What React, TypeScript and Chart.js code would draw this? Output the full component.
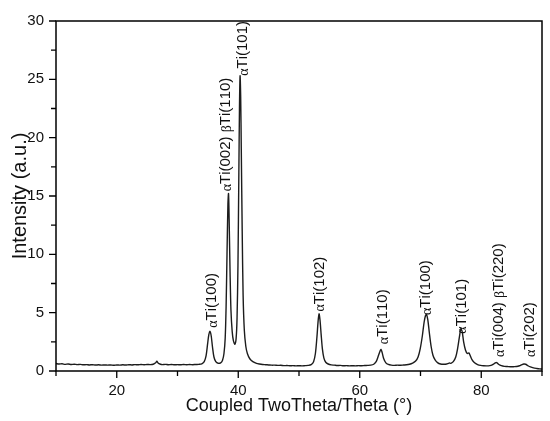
import React, { useEffect, useRef } from "react";
import { Chart, registerables } from "chart.js";

Chart.register(...registerables);

const twoTheta: number[] = [
  10.0, 10.5, 11.0, 11.5, 12.0, 12.5, 13.0, 13.5, 14.0, 14.5, 15.0, 15.5, 16.0, 16.5, 17.0, 17.5, 18.0, 18.5, 19.0, 19.5,
  20.0, 20.5, 21.0, 21.5, 22.0, 22.5, 23.0, 23.5, 24.0, 24.5, 25.0, 25.5, 26.0, 26.4, 26.6, 26.8, 27.2, 27.5, 28.0, 28.5,
  29.0, 29.5, 30.0, 30.5, 31.0, 31.5, 32.0, 32.5, 33.0, 33.5, 34.0, 34.4, 34.7, 34.95, 35.15, 35.35, 35.55, 35.75, 36.0, 36.3,
  36.7, 37.1, 37.4, 37.65, 37.85, 38.0, 38.15, 38.3, 38.4, 38.5, 38.65, 38.8, 39.0, 39.2, 39.45, 39.65, 39.8, 39.95, 40.1, 40.2,
  40.3, 40.4, 40.5, 40.65, 40.8, 41.0, 41.25, 41.5, 41.9, 42.4, 43.0, 43.5, 44.0, 44.5, 45.0, 45.5, 46.0, 46.5, 47.0, 47.5,
  48.0, 48.5, 49.0, 49.5, 50.0, 50.5, 51.0, 51.5, 52.0, 52.4, 52.7, 52.95, 53.15, 53.3, 53.45, 53.65, 53.85, 54.1, 54.4, 54.8,
  55.3, 55.8, 56.3, 56.8, 57.3, 57.8, 58.3, 58.8, 59.3, 59.8, 60.3, 60.8, 61.3, 61.8, 62.3, 62.7, 63.0, 63.3, 63.5, 63.7,
  63.95, 64.3, 64.7, 65.2, 65.7, 66.2, 66.7, 67.2, 67.7, 68.2, 68.7, 69.2, 69.6, 69.95, 70.3, 70.6, 70.85, 71.0, 71.2, 71.45,
  71.75, 72.05, 72.4, 72.8, 73.3, 73.8, 74.3, 74.7, 75.0, 75.4, 75.8, 76.1, 76.4, 76.65, 76.85, 77.1, 77.4, 77.7, 77.95, 78.2,
  78.5, 78.9, 79.4, 79.9, 80.4, 80.9, 81.4, 81.8, 82.1, 82.4, 82.6, 82.9, 83.3, 83.8, 84.3, 84.8, 85.3, 85.8, 86.3, 86.7,
  87.0, 87.3, 87.7, 88.1, 88.6, 89.1, 89.6, 90.0,
];

const intensity: number[] = [
  0.64, 0.6, 0.62, 0.57, 0.6, 0.56, 0.58, 0.55, 0.57, 0.53, 0.55, 0.52, 0.54, 0.51, 0.53, 0.5, 0.52, 0.5, 0.52, 0.49,
  0.52, 0.5, 0.53, 0.51, 0.54, 0.52, 0.55, 0.53, 0.56, 0.54, 0.56, 0.55, 0.58, 0.7, 0.84, 0.68, 0.58, 0.55, 0.57, 0.54,
  0.56, 0.53, 0.55, 0.53, 0.56, 0.54, 0.56, 0.54, 0.56, 0.57, 0.62, 0.8, 1.3, 2.3, 3.1, 3.4, 3.0, 2.1, 1.2, 0.8,
  0.66, 0.7, 0.9, 1.5, 2.8, 5.5, 10.0, 14.3, 15.2, 13.0, 8.5, 5.2, 3.4, 2.6, 2.3, 2.8, 4.5, 9.0, 17.0, 22.5,
  25.3, 23.5, 19.0, 12.0, 6.5, 3.5, 2.1, 1.5, 1.05, 0.8, 0.66, 0.6, 0.56, 0.54, 0.52, 0.5, 0.5, 0.48, 0.49, 0.46,
  0.47, 0.45, 0.46, 0.44, 0.45, 0.44, 0.46, 0.48, 0.55, 0.8, 1.5, 2.9, 4.3, 4.9, 4.4, 3.1, 1.9, 1.1, 0.75, 0.6,
  0.52, 0.5, 0.47, 0.48, 0.45, 0.46, 0.44, 0.45, 0.44, 0.46, 0.45, 0.47, 0.48, 0.5, 0.58, 0.8, 1.2, 1.65, 1.85, 1.55,
  1.05, 0.7, 0.56, 0.5, 0.48, 0.5, 0.49, 0.51, 0.53, 0.58, 0.68, 0.85, 1.2, 1.9, 3.0, 4.2, 4.8, 4.85, 4.4, 3.3,
  2.1, 1.35, 0.95, 0.72, 0.6, 0.58, 0.6, 0.68, 0.66, 0.8, 1.2, 1.9, 2.9, 3.6, 3.4, 2.5, 1.8, 1.5, 1.55, 1.3,
  0.95, 0.7, 0.55, 0.48, 0.45, 0.44, 0.46, 0.52, 0.62, 0.72, 0.7, 0.56, 0.46, 0.4, 0.38, 0.36, 0.37, 0.38, 0.45, 0.55,
  0.6, 0.58, 0.45, 0.35, 0.27, 0.22, 0.18, 0.17,
];

const peakLabels: string[] = [
  "αTi(100)",
  "αTi(002) βTi(110)",
  "αTi(101)",
  "αTi(102)",
  "αTi(110)",
  "αTi(100)",
  "αTi(101)",
  "αTi(004) βTi(220)",
  "αTi(202)",
];
const peakLabelTheta: number[] = [35.7, 38.0, 40.8, 53.4, 63.8, 70.9, 76.8, 82.9, 88.0];
const peakLabelBase: number[] = [3.7, 15.4, 25.3, 5.1, 2.3, 4.8, 3.2, 1.2, 1.2];

const xMajorTicks: number[] = [20, 40, 60, 80];
const xMinorTicks: number[] = [10, 30, 50, 70, 90];
const yMajorTicks: number[] = [0, 5, 10, 15, 20, 25, 30];
const yMinorTicks: number[] = [2.5, 7.5, 12.5, 17.5, 22.5, 27.5];

const SANS = "'Liberation Sans', Arial, sans-serif";
const SERIF = "'Liberation Serif', 'DejaVu Serif', serif";

const framePlugin = {
  id: "frameAndTicks",
  afterDraw(chart: any) {
    const { ctx, chartArea, scales } = chart;
    const xs = scales.x;
    const ys = scales.y;
    ctx.save();
    ctx.strokeStyle = "#000";
    ctx.lineWidth = 1.5;
    ctx.strokeRect(chartArea.left, chartArea.top, chartArea.right - chartArea.left, chartArea.bottom - chartArea.top);
    ctx.lineWidth = 1.3;
    ctx.beginPath();
    const tick = (vals: number[], len: number, horiz: boolean) => {
      for (const v of vals) {
        if (horiz) {
          const px = xs.getPixelForValue(v);
          ctx.moveTo(px, chartArea.bottom);
          ctx.lineTo(px, chartArea.bottom + len);
        } else {
          const py = ys.getPixelForValue(v);
          ctx.moveTo(chartArea.left, py);
          ctx.lineTo(chartArea.left - len, py);
        }
      }
    };
    tick(xMajorTicks, 7, true);
    tick(xMinorTicks, 5, true);
    tick(yMajorTicks, 7, false);
    tick(yMinorTicks, 5, false);
    ctx.stroke();
    ctx.restore();
  },
  afterDatasetsDraw(chart: any) {
    const { ctx, scales } = chart;
    const size = 15;
    ctx.save();
    ctx.fillStyle = "#111";
    ctx.textBaseline = "middle";
    ctx.textAlign = "left";
    peakLabels.forEach((label, i) => {
      const px = scales.x.getPixelForValue(peakLabelTheta[i]);
      const py = scales.y.getPixelForValue(peakLabelBase[i]);
      ctx.save();
      ctx.translate(px, py);
      ctx.rotate(-Math.PI / 2);
      let off = 0;
      for (const ch of Array.from(label)) {
        const greek = ch === "α" || ch === "β";
        ctx.font = greek ? `${size - 1}px ${SERIF}` : `${size}px ${SANS}`;
        ctx.fillText(ch, off, greek ? 1 : 0);
        off += ctx.measureText(ch).width;
      }
      ctx.restore();
    });
    ctx.restore();
  },
};

export default function App() {
  const canvasRef = useRef<HTMLCanvasElement | null>(null);

  useEffect(() => {
    document.body.style.margin = "0";
    const canvas = canvasRef.current;
    if (!canvas) return;
    const chart = new Chart(canvas, {
      type: "line",
      data: {
        datasets: [
          {
            data: twoTheta.map((x, i) => ({ x, y: intensity[i] })),
            borderColor: "#1c1c1c",
            borderWidth: 1.4,
            pointRadius: 0,
            tension: 0.3,
            fill: false,
          },
        ],
      },
      options: {
        animation: false,
        responsive: false,
        devicePixelRatio: 1,
        layout: { padding: { left: 0, right: 8, top: 12, bottom: 0 } },
        plugins: { legend: { display: false }, tooltip: { enabled: false } },
        scales: {
          x: {
            type: "linear",
            min: 10,
            max: 90,
            grid: { display: false, drawTicks: false },
            border: { display: false },
            afterBuildTicks: (scale: any) => {
              scale.ticks = xMajorTicks.map((v) => ({ value: v }));
            },
            afterFit: (scale: any) => {
              scale.height = 50;
            },
            ticks: {
              padding: 11,
              color: "#111",
              font: { family: SANS, size: 15 },
              maxRotation: 0,
            },
            title: {
              display: true,
              text: "Coupled TwoTheta/Theta (°)",
              color: "#111",
              font: { family: SANS, size: 18 },
              padding: { top: 0, bottom: 4 },
            },
          },
          y: {
            type: "linear",
            min: 0,
            max: 30,
            grid: { display: false, drawTicks: false },
            border: { display: false },
            afterBuildTicks: (scale: any) => {
              scale.ticks = yMajorTicks.map((v) => ({ value: v }));
            },
            afterFit: (scale: any) => {
              scale.width = 56;
            },
            ticks: {
              padding: 12,
              color: "#111",
              font: { family: SANS, size: 15 },
            },
            title: {
              display: true,
              text: "Intensity (a.u.)",
              color: "#111",
              font: { family: SANS, size: 20 },
              padding: { top: 8, bottom: 0 },
            },
          },
        },
      },
      plugins: [framePlugin],
    });
    return () => chart.destroy();
  }, []);

  return (
    <div style={{ position: "absolute", left: 0, top: 0, width: 550, height: 421 }}>
      <canvas ref={canvasRef} width={550} height={421} />
    </div>
  );
}
